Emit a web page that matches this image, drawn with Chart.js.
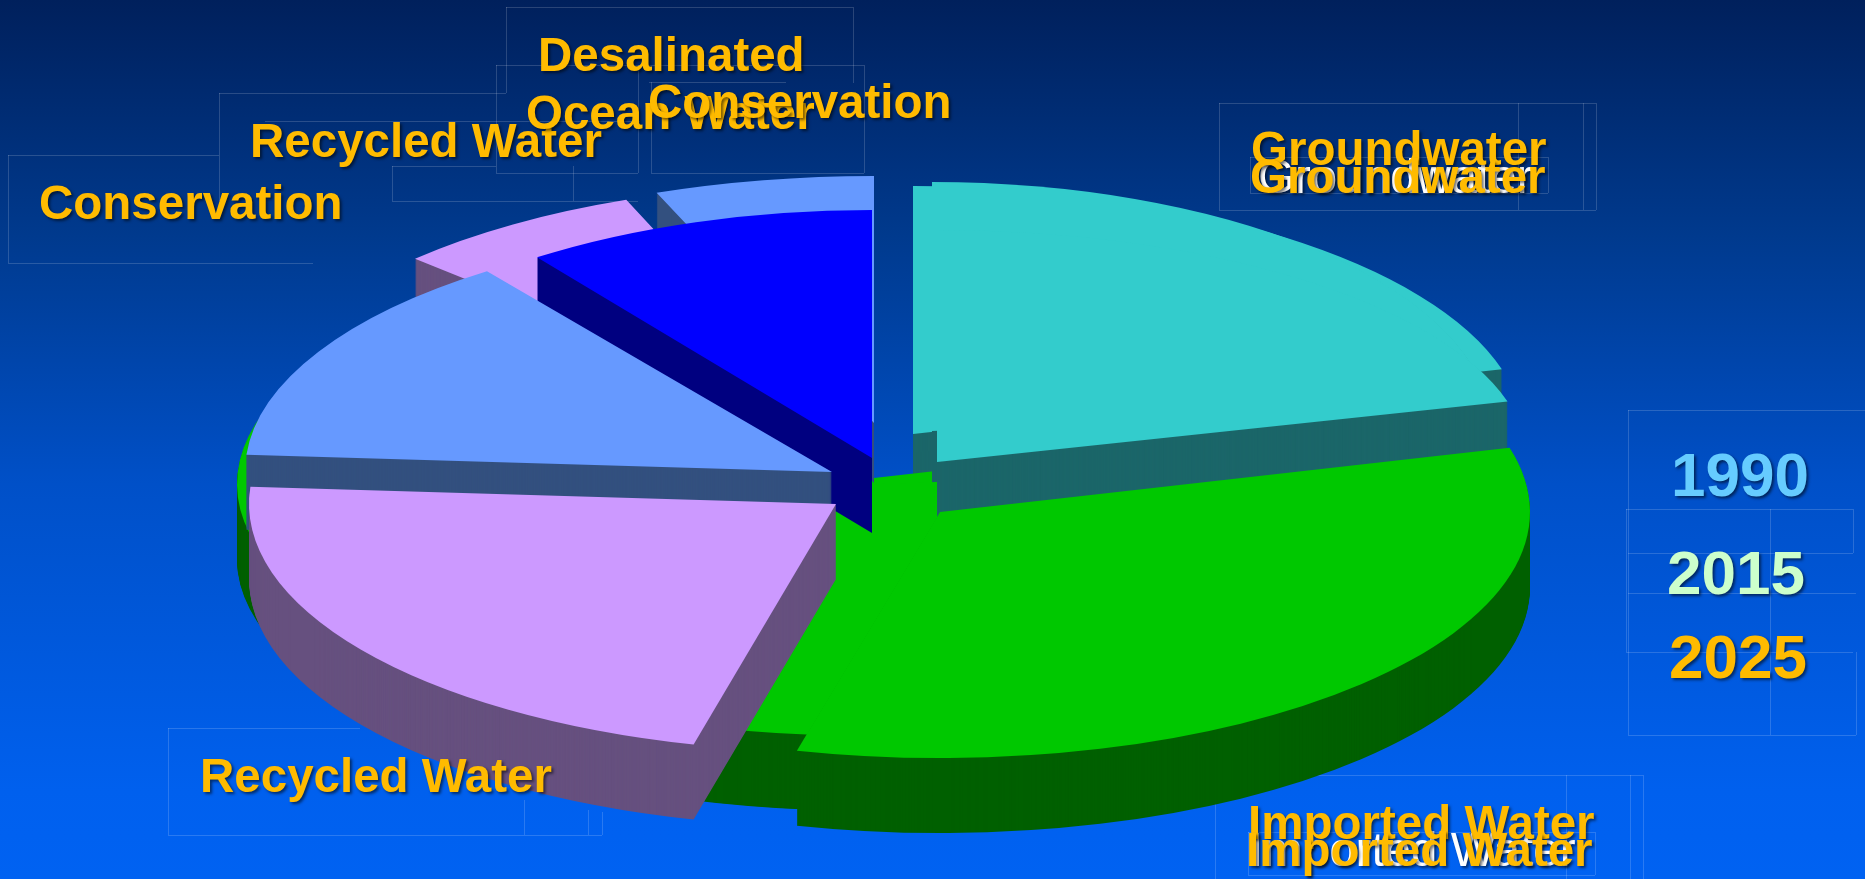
<!DOCTYPE html>
<html lang="en">

<head>
    <meta charset="UTF-8">
    <title>Water supply mix</title>
    <script src="https://cdn.jsdelivr.net/npm/chart.js"></script>
    <style>
        html,
        body {
            margin: 0;
            padding: 0;
            overflow: hidden;
        }

        #stage {
            position: relative;
            width: 1865px;
            height: 879px;
            overflow: hidden;
            background: linear-gradient(to bottom, #00205c 0%, #003a8e 27%, #0050c8 55%, #0060ee 90%, #0062f2 100%);
        }

        #stage canvas {
            position: absolute;
            left: 0;
            top: 0;
        }

        .outline {
            position: absolute;
            background: rgba(255, 255, 255, 0.16);
        }

        .label {
            position: absolute;
            font-family: "Liberation Sans", Arial, sans-serif;
            font-weight: bold;
            font-size: 47.5px;
            white-space: nowrap;
            color: #ffbb00;
            text-shadow: 2px 2px 3px rgba(0, 0, 0, 0.55);
        }
    </style>
</head>

<body>
    <div id="stage">
        <canvas id="pieChart" width="1865" height="879"></canvas>
    </div>

    <script>
        // values, share of supply in percent
        const years = ['1990', '2015', '2025'];
        const categories = ['Groundwater', 'Imported Water', 'Recycled Water', 'Conservation', 'Desalinated Ocean Water'];
        const share1990 = [20.8, 79.2, 0, 0, 0];
        const share2015 = [23.6, 63.6, 6.9, 5.9, 0];
        const share2025 = [20.8, 33.1, 22.2, 13.9, 10.0];

        const faceColors = ['#33cccc', '#00c800', '#cc99ff', '#6699ff', '#0000ff'];
        const sideColors = ['#1b6669', '#006000', '#66507f', '#33507f', '#000080'];

        // where each exploded wedge sits: [centre x, centre y, radius x, radius y, side depth], per year per category
        const wedgePlace = [
            [[913, 434, 610, 248, 75], [874, 478, 615, 258, 75], null, null, null],
            [[932, 431, 560, 249, 75], [878, 484, 641, 252, 75], [840, 430, 590, 247, 75], [874, 423, 600, 247, 60], null],
            [[937, 462, 591, 232, 75], [940, 512, 590, 246, 75], [836, 504, 587, 248, 75], [832, 472, 587, 248, 75], [872, 458, 570, 248, 75]]
        ];

        // back to front: [year index, category index]
        const drawOrder = [
            [0, 0], [0, 1], [1, 0], [1, 1], [2, 0], [2, 1],
            [1, 3], [1, 2], [2, 4], [2, 3], [2, 2]
        ];

        function paintWedge(ctx, el, place, depth, color) {
            const saved = el.options;
            el.options = Object.create(saved, { backgroundColor: { value: color } });
            ctx.save();
            ctx.translate(place[0], place[1] + depth);
            ctx.scale(place[2] / el.outerRadius, place[3] / el.outerRadius);
            ctx.translate(-el.x, -el.y);
            el.draw(ctx);
            ctx.restore();
            el.options = saved;
        }

        // tilted pie with a thick side, the library only lays out the arcs
        const tiltedPie = {
            id: 'tiltedPie',
            beforeDatasetsDraw(chart) {
                const ctx = chart.ctx;
                drawOrder.forEach(([y, c]) => {
                    const el = chart.getDatasetMeta(y).data[c];
                    const place = wedgePlace[y][c];
                    el.innerRadius = 0;
                    for (let d = place[4]; d > 0; d--) {
                        paintWedge(ctx, el, place, d, sideColors[c]);
                    }
                    paintWedge(ctx, el, place, 0, faceColors[c]);
                });
                return false;
            }
        };

        new Chart(document.getElementById('pieChart').getContext('2d'), {
            type: 'pie',
            data: {
                labels: categories,
                datasets: [
                    { label: years[0], data: share1990, backgroundColor: faceColors, borderWidth: 0 },
                    { label: years[1], data: share2015, backgroundColor: faceColors, borderWidth: 0 },
                    { label: years[2], data: share2025, backgroundColor: faceColors, borderWidth: 0 }
                ]
            },
            options: {
                responsive: false,
                animation: false,
                plugins: { legend: { display: false }, tooltip: { enabled: false } }
            },
            plugins: [tiltedPie]
        });

        // text: [text, left, baseline, colour, size, weight]
        const labelPlaces = [
            ['Conservation', 39, 218],
            ['Recycled Water', 250, 156],
            ['Desalinated', 538, 70],
            ['Ocean Water', 526, 128],
            ['Conservation', 648, 117],
            ['Groundwater', 1258, 192, '#ffffff', 47.5, 'normal'],
            ['Groundwater', 1251, 164],
            ['Groundwater', 1250, 192],
            ['Imported Water', 1250, 865, '#ffffff', 47.5, 'normal'],
            ['Imported Water', 1248, 838],
            ['Imported Water', 1246, 865],
            ['Recycled Water', 200, 791],
            [years[0], 1671, 495, '#66ccff', 62],
            [years[1], 1667, 593, '#ccffcc', 62],
            [years[2], 1669, 677, '#ffbb00', 62]
        ];

        // faint leftover frames behind the pie: [x1, y1, x2, y2]
        const frameLines = [
            [506, 7, 853, 7], [506, 7, 506, 93], [853, 7, 853, 83],
            [496, 65, 864, 65], [496, 65, 496, 173], [864, 65, 864, 173], [496, 173, 638, 173], [651, 173, 864, 173],
            [638, 65, 638, 173], [651, 82, 651, 173], [649, 82, 786, 82],
            [219, 93, 506, 93], [219, 93, 219, 201], [392, 201, 638, 201], [392, 166, 496, 166], [392, 166, 392, 201],
            [265, 121, 640, 121], [573, 166, 573, 201],
            [8, 155, 219, 155], [8, 155, 8, 263], [8, 263, 313, 263],
            [1219, 103, 1596, 103], [1219, 103, 1219, 210], [1219, 210, 1596, 210], [1518, 103, 1518, 210], [1583, 103, 1583, 210], [1596, 103, 1596, 210],
            [1250, 157, 1548, 157], [1250, 157, 1250, 193], [1250, 193, 1548, 193], [1548, 157, 1548, 193],
            [1628, 410, 1865, 410], [1628, 410, 1628, 735],
            [1626, 509, 1853, 509], [1626, 509, 1626, 652], [1626, 652, 1853, 652], [1853, 509, 1853, 553], [1628, 553, 1853, 553],
            [1628, 593, 1856, 593], [1628, 735, 1856, 735], [1856, 652, 1856, 735], [1770, 509, 1770, 735],
            [168, 728, 360, 728], [168, 728, 168, 835], [168, 835, 602, 835], [524, 800, 524, 835], [588, 810, 588, 835], [602, 812, 602, 835],
            [1215, 775, 1643, 775], [1215, 775, 1215, 879], [1566, 775, 1566, 879], [1630, 775, 1630, 879], [1643, 775, 1643, 879],
            [1248, 832, 1595, 832], [1248, 832, 1248, 875], [1248, 875, 1595, 875], [1595, 832, 1595, 875]
        ];

        const stage = document.getElementById('stage');
        const canvas = document.getElementById('pieChart');

        frameLines.forEach(([x1, y1, x2, y2]) => {
            const line = document.createElement('div');
            line.className = 'outline';
            line.style.left = x1 + 'px';
            line.style.top = y1 + 'px';
            line.style.width = Math.max(x2 - x1, 1) + 'px';
            line.style.height = Math.max(y2 - y1, 1) + 'px';
            stage.insertBefore(line, canvas);
        });

        labelPlaces.forEach(([text, left, baseline, color, size, weight]) => {
            const span = document.createElement('span');
            const px = size || 47.5;
            span.className = 'label';
            span.textContent = text;
            span.style.left = left + 'px';
            span.style.top = (baseline - 0.905 * px) + 'px';
            span.style.fontSize = px + 'px';
            if (color) span.style.color = color;
            if (weight) span.style.fontWeight = weight;
            stage.appendChild(span);
        });
    </script>
</body>

</html>
